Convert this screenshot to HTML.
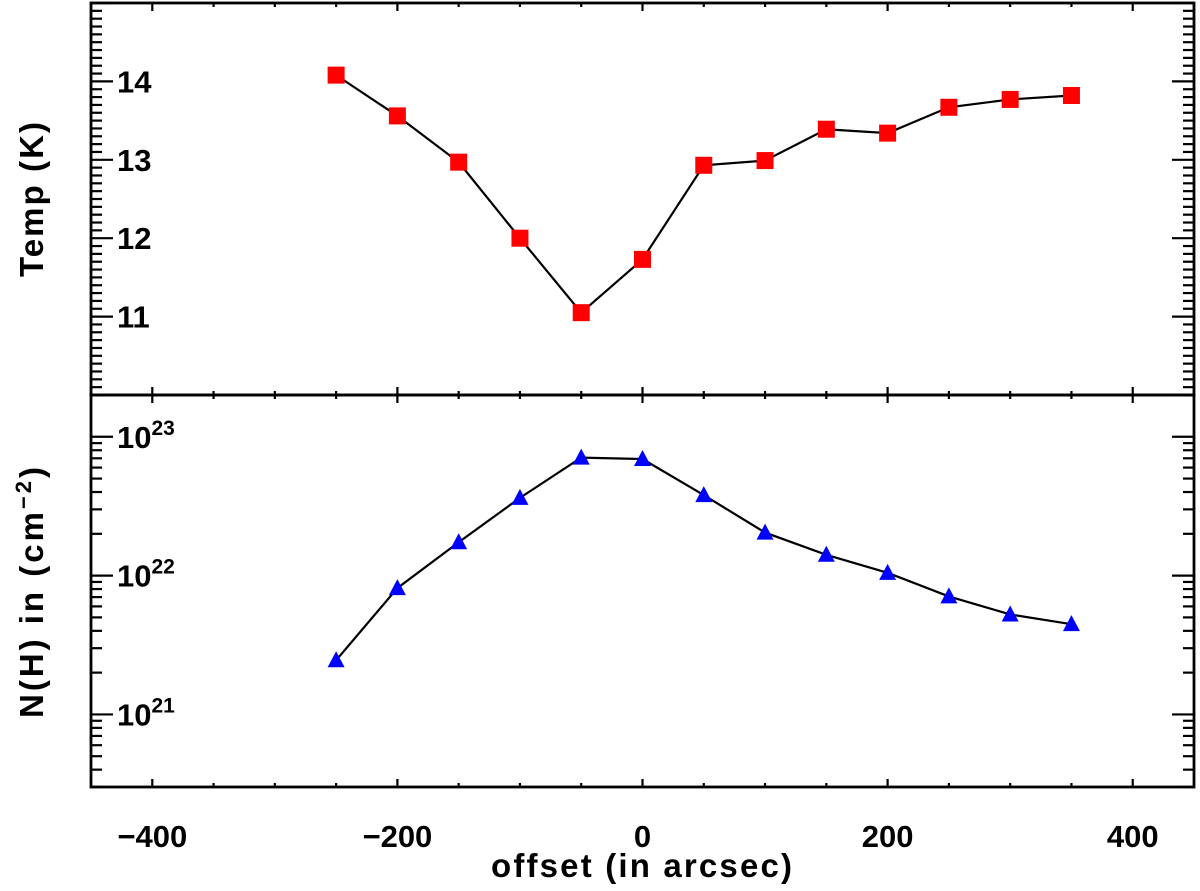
<!DOCTYPE html>
<html><head><meta charset="utf-8"><style>
html,body{margin:0;padding:0;background:#fff;}
svg{display:block;font-family:"Liberation Sans",sans-serif;}
</style></head><body>
<svg id="chart" width="1200" height="891" viewBox="0 0 1200 891" xmlns="http://www.w3.org/2000/svg"></svg>
<script>
const offsets = [-250,-200,-150,-100,-50,0,50,100,150,200,250,300,350];
const tempValues = [14.08,13.56,12.97,12.0,11.05,11.73,12.93,12.99,13.39,13.34,13.67,13.77,13.82];
const nhLogValues = [21.39,21.91,22.24,22.56,22.85,22.84,22.58,22.31,22.15,22.02,21.85,21.72,21.65];
const xTickLabels = ["−400","−200","0","200","400"];
const xTickValues = [-400,-200,0,200,400];
const tempTickValues = [11,12,13,14];
const nhTickExps = [21,22,23];

const NS="http://www.w3.org/2000/svg";
const svg=document.getElementById('chart');
const L=91,R=1194,T1=3,B1=395,T2=395,B2=787;
const xs=v=>L+(v+450)/900*(R-L);
const yT=v=>B1-(v-10)/5*(B1-T1);
const LMIN=Math.log10(3e20),LMAX=Math.log10(2e23);
const yN=v=>B2-(v-LMIN)/(LMAX-LMIN)*(B2-T2);
function el(tag,attrs,parent){const e=document.createElementNS(NS,tag);for(const k in attrs)e.setAttribute(k,attrs[k]);(parent||svg).appendChild(e);return e;}
function line(x1,y1,x2,y2,g){return el('line',{x1,y1,x2,y2,stroke:'#000','stroke-width':2.2},g);}

const f1=el('rect',{x:L,y:T1,width:R-L,height:B1-T1,fill:'none',stroke:'#000','stroke-width':2.8});


const f2=el('rect',{x:L,y:T2,width:R-L,height:B2-T2,fill:'none',stroke:'#000','stroke-width':2.8});



const gx=el('g',{});


for(let v=-450;v<=450;v+=50){
  const major=(v%200===0);
  const len=major?8:4;const x=xs(v);
  line(x,T1,x,T1+len,gx);line(x,B1,x,B1-len,gx);
  line(x,T2,x,T2+len,gx);line(x,B2,x,B2-len,gx);
}
xTickValues.forEach((v,i)=>{
  const t=el('text',{x:xs(v),y:847,'font-size':31,'font-weight':'bold','text-anchor':'middle',fill:'#000'});
  t.textContent=xTickLabels[i];
  
  
});
const xt=el('text',{x:491,y:877,'font-size':33,'font-weight':'bold',fill:'#000',textLength:301,lengthAdjust:'spacing'});
xt.textContent='offset (in arcsec)';



const gy1=el('g',{});


for(let i=0;i<=50;i++){
  const v=10+i*0.1;const y=yT(v);const major=(i%10===0);const len=major?22:11;
  line(L,y,L+len,y,gy1);line(R,y,R-len,y,gy1);
}
tempTickValues.forEach(v=>{
  const t=el('text',{x:117,y:yT(v)+11,'font-size':31,'font-weight':'bold',fill:'#000'});
  t.textContent=String(v);
  
  
});
const yt1=el('text',{x:0,y:0,'font-size':33,'font-weight':'bold',fill:'#000',transform:'translate(43,277) rotate(-90)',textLength:155,lengthAdjust:'spacing'});
yt1.textContent='Temp (K)';



const gy2=el('g',{});


for(let e=20;e<=23;e++){for(let m=1;m<=9;m++){
  const lv=e+Math.log10(m);if(lv<LMIN-1e-6||lv>LMAX+1e-6)continue;
  const y=yN(lv);const len=m===1?22:11;
  line(L,y,L+len,y,gy2);line(R,y,R-len,y,gy2);
}}
nhTickExps.forEach(e=>{
  const t=el('text',{x:117,y:yN(e)+11,'font-size':31,'font-weight':'bold',fill:'#000'});
  
  
  t.appendChild(document.createTextNode('10'));
  const s=el('tspan',{dy:-13,'font-size':21},t);s.textContent=String(e);
});
const yt2=el('text',{x:0,y:0,'font-size':33,'font-weight':'bold',fill:'#000',transform:'translate(43,718) rotate(-90)',textLength:251,lengthAdjust:'spacing'});


yt2.appendChild(document.createTextNode('N(H) in (cm'));
const sp=el('tspan',{dy:-12,'font-size':22},yt2);sp.textContent='−2';
const sp2=el('tspan',{dy:12},yt2);sp2.textContent=')';

const p1=el('polyline',{points:offsets.map((x,i)=>xs(x)+','+yT(tempValues[i])).join(' '),fill:'none',stroke:'#000','stroke-width':2.2});


offsets.forEach((x,i)=>{
  const r=el('rect',{x:xs(x)-8.5,y:yT(tempValues[i])-8.5,width:17,height:17,fill:'#ff0000'});
  
  
});
const p2=el('polyline',{points:offsets.map((x,i)=>xs(x)+','+yN(nhLogValues[i])).join(' '),fill:'none',stroke:'#000','stroke-width':2.2});


offsets.forEach((x,i)=>{
  const cx=xs(x),cy=yN(nhLogValues[i]);
  const t=el('polygon',{points:`${cx-8.5},${cy+7} ${cx+8.5},${cy+7} ${cx},${cy-9}`,fill:'#0000ff'});
  
  
});
</script>
</body></html>
